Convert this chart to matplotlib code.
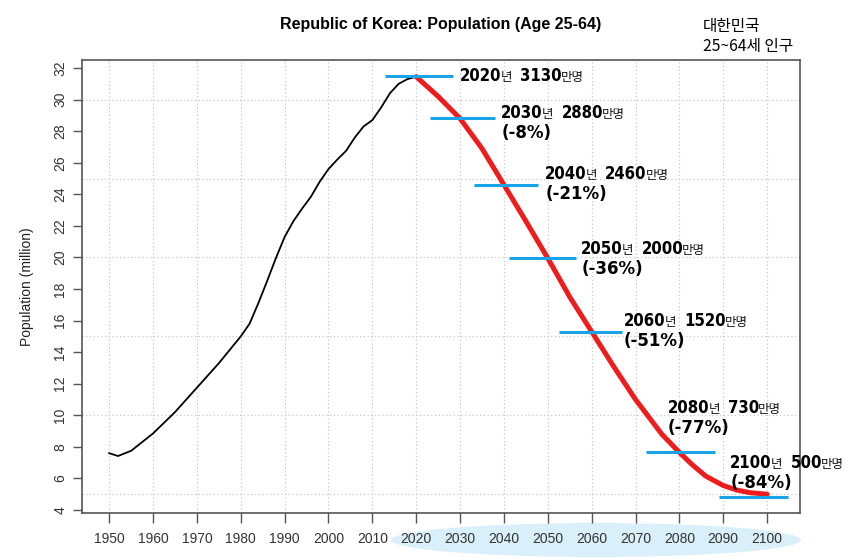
import matplotlib
matplotlib.use('Agg')
import matplotlib.pyplot as plt
from matplotlib.transforms import IdentityTransform
from matplotlib.patches import Ellipse

# ---- data ----
hist_years = [1950, 1952, 1955, 1960, 1965, 1970, 1975, 1980, 1982, 1984, 1986, 1988,
              1990, 1992, 1994, 1996, 1998, 2000, 2002, 2004, 2006, 2008, 2010, 2012,
              2014, 2016, 2018, 2020]
hist_pop = [7.6, 7.42, 7.75, 8.85, 10.2, 11.75, 13.3, 15.0, 15.8, 17.1, 18.5, 19.95,
            21.3, 22.3, 23.1, 23.85, 24.8, 25.6, 26.2, 26.75, 27.6, 28.3, 28.7, 29.5,
            30.4, 31.0, 31.3, 31.45]
proj_years = [2020, 2025, 2030, 2035, 2040, 2045, 2050, 2055, 2060, 2065, 2070, 2073,
              2076, 2080, 2083, 2086, 2090, 2093, 2096, 2100]
proj_pop = [31.45, 30.2, 28.8, 26.9, 24.6, 22.3, 19.95, 17.5, 15.3, 13.1, 11.0, 9.9,
            8.8, 7.65, 6.85, 6.15, 5.55, 5.27, 5.1, 5.0]
mark_x0 = [2012.9, 2023.2, 2033.2, 2041.2, 2052.6, 2072.3, 2089.1]
mark_x1 = [2028.4, 2038.0, 2047.8, 2056.4, 2066.9, 2088.1, 2104.8]
mark_pop = [31.5, 28.85, 24.6, 19.95, 15.3, 7.65, 4.8]
label_year = ['2020', '2030', '2040', '2050', '2060', '2080', '2100']
label_val = ['3130', '2880', '2460', '2000', '1520', '730', '500']
label_pct = [None, '(-8%)', '(-21%)', '(-36%)', '(-51%)', '(-77%)', '(-84%)']
x_ticks = list(range(1950, 2101, 10))
y_ticks = list(range(4, 33, 2))
grid_y = [5, 10, 15, 20, 25, 30]

# label anchor positions (data coords: left x, centre y of line 1 and line 2)
label_x = [2030.0, 2039.4, 2049.4, 2057.6, 2067.4, 2077.4, 2091.6]
label_y1 = [31.56, 29.21, 25.33, 20.6, 16.04, 10.52, 7.04]
label_y2 = [None, 27.95, 24.08, 19.33, 14.77, 9.26, 5.77]

W, H = 850, 559
fig = plt.figure(figsize=(W / 100, H / 100), dpi=100)
ax = fig.add_axes([82 / W, 1 - 513 / H, (800 - 82) / W, (513 - 59.5) / H])
ax.set_xlim(1943.8, 2107.5)
ax.set_ylim(3.81, 32.54)

# grid
for gx in x_ticks:
    ax.axvline(gx, color='#c8c8c8', lw=0.9, ls=(0, (1, 2)), zorder=0)
for gy in grid_y:
    ax.axhline(gy, color='#c8c8c8', lw=0.9, ls=(0, (1, 2)), zorder=0)

ax.plot(hist_years, hist_pop, color='black', lw=1.3, zorder=2, solid_joinstyle='round')
ax.plot(proj_years, proj_pop, color='#ee1c1c', lw=3.6, zorder=3,
        solid_capstyle='round', solid_joinstyle='round')
ax.hlines(mark_pop, mark_x0, mark_x1, color='#18a4e6', lw=2.2, zorder=4)

for s in ax.spines.values():
    s.set_color('#555555')
    s.set_linewidth(1.2)

ax.set_xticks(x_ticks)
ax.set_xticklabels([str(v) for v in x_ticks], family='Liberation Sans', fontsize=10, color='#333333')
ax.set_yticks(y_ticks)
ax.set_yticklabels([str(v) for v in y_ticks], family='Liberation Sans', fontsize=10,
                   color='#333333', rotation=90, va='center')
ax.tick_params(axis='x', length=7, width=1, color='#555555', pad=7)
ax.tick_params(axis='y', length=6.5, width=1, color='#555555', pad=4)
ax.set_ylabel('Population (million)', family='Liberation Sans', fontsize=10, color='#222222',
              labelpad=14)

# ellipse highlight behind projection years
ell = Ellipse((596, H - 540), 410, 34, transform=IdentityTransform(),
              facecolor='#d9eff9', edgecolor='none', zorder=-1)
fig.add_artist(ell)

fig.text(441 / W, 1 - 24 / H, 'Republic of Korea: Population (Age 25-64)',
         family='Liberation Sans', weight='bold', fontsize=11.5, ha='center', va='center')
fig.text(703 / W, 1 - 27 / H, '대한민국', family=['Noto Sans CJK KR', 'DejaVu Sans'],
         fontsize=11.3, ha='left', va='center')
fig.text(703 / W, 1 - 47 / H, '25~64세 인구', family=['Noto Sans CJK KR', 'DejaVu Sans'],
         fontsize=11.3, ha='left', va='center')

fig.canvas.draw()
r = fig.canvas.get_renderer()

NUM = dict(family='DejaVu Sans', stretch='condensed', weight='bold', fontsize=12, color='black')
PCT = dict(family='DejaVu Sans', weight='bold', fontsize=12, color='black')
KOR = dict(family='Noto Sans CJK KR', fontsize=9, color='#111111')


def rich(x, y, parts):
    px, py = ax.transData.transform((x, y))
    py = py - 6.0  # centre -> baseline
    for s, kw, gap in parts:
        t = fig.text(px, py, s, transform=IdentityTransform(), ha='left', va='baseline',
                     zorder=6, **kw)
        bb = t.get_window_extent(renderer=r)
        px = bb.x1 + gap


for i in range(len(label_year)):
    rich(label_x[i], label_y1[i], [(label_year[i], NUM, -1), ('년', KOR, 8),
                                   (label_val[i], NUM, -1), ('만명', KOR, 0)])
    if label_pct[i]:
        rich(label_x[i], label_y2[i], [(label_pct[i], PCT, 0)])

fig.savefig('out.png', dpi=100)
